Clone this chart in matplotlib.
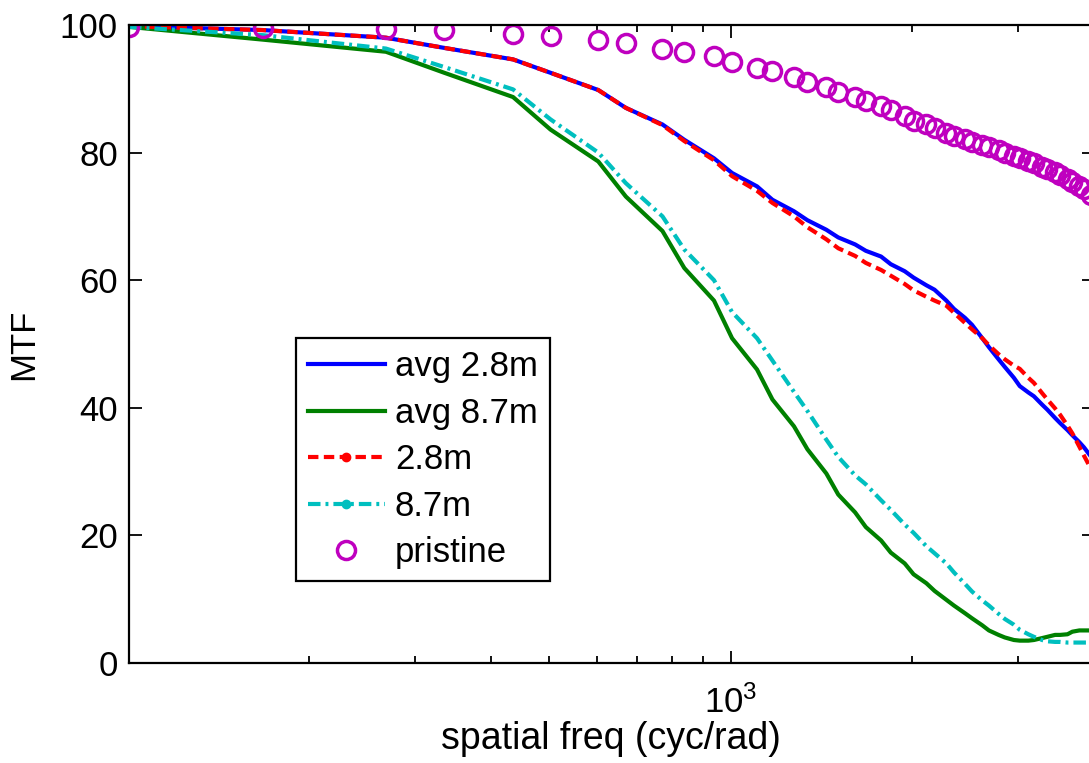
import matplotlib
matplotlib.use('Agg')
import matplotlib.pyplot as plt
from matplotlib.lines import Line2D
from matplotlib.ticker import FixedLocator, NullFormatter, LogLocator

plt.rcParams['font.family'] = ['Liberation Sans', 'DejaVu Sans']
plt.rcParams['mathtext.default'] = 'regular'

# spatial frequency samples (cyc/rad)
freq = [100.5, 167.5, 268, 335, 435.5, 502.5, 603, 670, 770.5, 837.5,
        938, 1005, 1105.5, 1172.5, 1273, 1340, 1440.5, 1507.5, 1608, 1675,
        1775.5, 1842.5, 1943, 2010, 2110.5, 2177.5, 2278, 2345, 2445.5, 2512.5,
        2613, 2680, 2780.5, 2847.5, 2948, 3015, 3115.5, 3182.5, 3283, 3350,
        3450.5, 3517.5, 3618, 3685, 3785.5, 3852.5, 3953]

pristine = [99.7, 99.6, 99.4, 99.2, 98.6, 98.3, 97.7, 97.2, 96.3, 95.7,
            95.1, 94.2, 93.3, 92.8, 91.8, 91.0, 90.2, 89.5, 88.7, 88.1,
            87.3, 86.6, 85.7, 85.0, 84.4, 83.8, 83.1, 82.6, 82.1, 81.7,
            81.2, 80.8, 80.4, 80.0, 79.5, 79.1, 78.6, 78.3, 77.8, 77.4,
            76.9, 76.5, 75.9, 75.4, 74.8, 74.3, 73.3]

avg_28 = [99.8, 99.2, 98.0, 96.4, 94.6, 92.5, 89.8, 87.0, 84.4, 82.0,
          79.1, 76.8, 74.7, 72.6, 70.8, 69.4, 67.9, 66.7, 65.6, 64.6,
          63.7, 62.5, 61.4, 60.4, 59.2, 58.5, 56.8, 55.5, 54.1, 53.0,
          50.9, 49.5, 47.6, 46.4, 44.7, 43.4, 42.4, 41.8, 40.5, 39.7,
          38.4, 37.6, 36.5, 35.7, 34.6, 33.8, 32.4]

avg_87 = [99.7, 97.7, 95.8, 92.5, 88.7, 83.6, 78.6, 73.1, 67.7, 61.9,
          56.8, 50.9, 46.0, 41.3, 37.1, 33.5, 29.7, 26.4, 23.6, 21.3,
          19.2, 17.3, 15.6, 13.9, 12.5, 11.3, 9.9, 9.0, 7.8, 7.0,
          5.9, 5.1, 4.4, 4.0, 3.6, 3.5, 3.5, 3.6, 3.9, 4.1,
          4.4, 4.4, 4.5, 4.9, 5.1, 5.1, 5.1]

run_28 = [99.8, 99.2, 98.0, 96.4, 94.6, 92.5, 89.8, 87.0, 84.3, 81.8,
          78.8, 76.3, 74.0, 72.1, 70.0, 68.3, 66.4, 65.0, 63.8, 62.7,
          61.6, 60.7, 59.4, 58.4, 57.4, 56.8, 56.0, 54.9, 53.3, 52.3,
          50.9, 49.8, 48.4, 47.6, 46.6, 46.1, 44.7, 43.9, 42.3, 41.3,
          39.9, 38.9, 37.2, 36.0, 33.9, 32.5, 30.5]

run_87 = [99.7, 98.4, 96.3, 93.4, 89.9, 85.2, 80.0, 75.2, 70.0, 64.8,
          60.0, 55.0, 50.9, 47.4, 42.5, 39.5, 35.0, 32.3, 29.4, 28.0,
          25.5, 24.0, 21.7, 20.4, 18.3, 17.2, 15.6, 14.2, 12.4, 11.2,
          9.8, 9.0, 7.7, 6.9, 6.0, 5.2, 4.5, 4.1, 3.6, 3.4,
          3.3, 3.3, 3.2, 3.2, 3.2, 3.2, 3.2]

fig = plt.figure(figsize=(10.89, 7.63), dpi=100)
ax = fig.add_axes([0.1185, 0.1311, 0.8859, 0.8362])

lw = 3.0
dash = (0, (2.5, 1.3))
dashdot = (0, (3.0, 1.2, 0.7, 1.2))
c_mag = '#bf00bf'
c_cyan = '#00bfbf'
c_green = '#008000'

l1, = ax.plot(freq, avg_28, color='#0000ff', lw=lw, label='avg 2.8m')
l2, = ax.plot(freq, avg_87, color=c_green, lw=lw, label='avg 8.7m')
l3, = ax.plot(freq, run_28, color='#ff0000', lw=lw, ls=dash, label='2.8m')
l4, = ax.plot(freq, run_87, color=c_cyan, lw=lw, ls=dashdot, label='8.7m')
l5, = ax.plot(freq, pristine, ls='none', marker='o', ms=13,
              mfc='none', mec=c_mag, mew=2.5, label='pristine')

ax.set_xscale('log')
ax.set_xlim(100.5, 4000)
ax.set_ylim(0, 100)

ax.xaxis.set_major_locator(FixedLocator([1000]))
ax.set_xticklabels(['$10^3$'])
ax.xaxis.set_minor_locator(LogLocator(base=10, subs=range(2, 10)))
ax.xaxis.set_minor_formatter(NullFormatter())
ax.set_yticks([0, 20, 40, 60, 80, 100])

ax.tick_params(which='both', direction='in', top=True, right=True,
               labelsize=25, width=1.3, colors='black')
ax.tick_params(which='major', length=9)
ax.tick_params(which='minor', length=5)
ax.tick_params(axis='y', pad=8)
ax.tick_params(axis='x', pad=16)
for s in ax.spines.values():
    s.set_linewidth(1.6)

ax.set_xlabel('spatial freq (cyc/rad)', fontsize=27, labelpad=1)
ax.set_ylabel('MTF', fontsize=25, labelpad=14)

# legend shows a dot marker on the two single-run lines
h3 = Line2D([], [], color='#ff0000', lw=lw, ls=dash, marker='o', ms=6)
h4 = Line2D([], [], color=c_cyan, lw=lw, ls=dashdot, marker='o', ms=6)
leg = ax.legend([l1, l2, h3, h4, l5],
                ['avg 2.8m', 'avg 8.7m', '2.8m', '8.7m', 'pristine'],
                loc='upper left', bbox_to_anchor=(296 / 1089, 1 - 338 / 763),
                bbox_transform=fig.transFigure, borderaxespad=0,
                fontsize=25, frameon=True, fancybox=False, framealpha=1,
                edgecolor='black', handlelength=2.2, handletextpad=0.3,
                borderpad=0.35, labelspacing=0.39)
leg.get_frame().set_linewidth(1.6)

fig.savefig('out.png', dpi=100)
